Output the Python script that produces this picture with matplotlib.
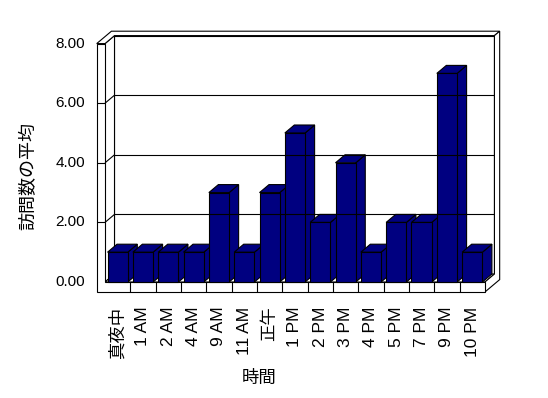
import matplotlib
matplotlib.use("Agg")
import matplotlib.pyplot as plt
from matplotlib.patches import Polygon

plt.rcParams['font.family'] = ['Liberation Sans', 'Noto Sans CJK JP', 'DejaVu Sans']

# data
categories = ['真夜中', '1 AM', '2 AM', '4 AM', '9 AM', '11 AM', '正午', '1 PM',
              '2 PM', '3 PM', '4 PM', '5 PM', '7 PM', '9 PM', '10 PM']
visits = [1, 1, 1, 1, 3, 1, 3, 5, 2, 4, 1, 2, 2, 7, 1]
yticks = [0, 2, 4, 6, 8]
ytick_labels = ['0.00', '2.00', '4.00', '6.00', '8.00']
ylabel = '訪問数の平均'
xlabel = '時間'

# pseudo 3d layout (units: categories / values)
PXU = 25.33   # px per category
PXV = 29.8    # px per value unit
X0, Y0 = 105, 282   # px of front floor origin
DU = 9.5 / PXU      # depth shift in x
DV = 8.0 / PXV      # depth shift in y
TL = 8.3 / PXU      # left wall thickness
TF = 10.0 / PXV     # floor thickness
TB = 0.55           # back wall thickness (depth units)
NAVY = '#000080'
LW = 0.8

n = len(categories)
vmax = yticks[-1]


def P(u, v, d):
    return (u + d * DU, v + d * DV)


def poly(ax, pts, fc):
    ax.add_patch(Polygon(pts, closed=True, facecolor=fc, edgecolor='black',
                         linewidth=LW, joinstyle='miter'))


def line(ax, a, b):
    ax.plot([a[0], b[0]], [a[1], b[1]], color='black', linewidth=LW,
            solid_capstyle='butt')


fig = plt.figure(figsize=(5.48, 3.98), dpi=100)
ax = fig.add_axes([0, 0, 1, 1])
ax.set_xlim(-X0 / PXU, (548 - X0) / PXU)
ax.set_ylim(-(398 - Y0) / PXV, Y0 / PXV)
ax.axis('off')

# back wall + gridlines
poly(ax, [P(0, 0, 1), P(n, 0, 1), P(n, vmax, 1), P(0, vmax, 1)], 'white')
# left wall inner face
poly(ax, [P(0, 0, 0), P(0, 0, 1), P(0, vmax, 1), P(0, vmax, 0)], 'white')
# floor
poly(ax, [P(0, 0, 0), P(n, 0, 0), P(n, 0, 1), P(0, 0, 1)], 'white')
for v in yticks[1:-1]:
    line(ax, P(0, v, 1), P(n, v, 1))
    line(ax, P(0, v, 0), P(0, v, 1))

# wall thickness: top and right side
poly(ax, [P(-TL, vmax, 0), P(0, vmax, 0), P(0, vmax, 1), P(n, vmax, 1),
          P(n, vmax, 1 + TB), P(-TL, vmax, 1 + TB)], 'white')
poly(ax, [P(n, -TF, 0), P(n, 0, 0), P(n, 0, 1), P(n, vmax, 1),
          P(n, vmax, 1 + TB), P(n, -TF, 1 + TB)], 'white')

# front face of left wall and floor
poly(ax, [P(-TL, -TF, 0), P(-TL, vmax, 0), P(0, vmax, 0), P(0, 0, 0),
          P(n, 0, 0), P(n, -TF, 0)], 'white')
for v in yticks[1:-1]:
    line(ax, P(-TL, v, 0), P(0, v, 0))
for i in range(1, n):
    line(ax, P(i, -TF, 0), P(i, 0, 0))

# bars
for i, val in enumerate(visits):
    x0, x1 = i + 0.1, i + 0.9
    poly(ax, [P(x1, 0, 0), P(x1, 0, 1), P(x1, val, 1), P(x1, val, 0)], NAVY)
    poly(ax, [P(x0, val, 0), P(x1, val, 0), P(x1, val, 1), P(x0, val, 1)], NAVY)
    poly(ax, [P(x0, 0, 0), P(x1, 0, 0), P(x1, val, 0), P(x0, val, 0)], NAVY)

# labels
for v, lab in zip(yticks, ytick_labels):
    ax.text((85 - X0) / PXU, v, lab, ha='right', va='center', fontsize=11)

for i, lab in enumerate(categories):
    ax.text(i + 0.5, -(306.5 - Y0) / PXV, lab, ha='center', va='top',
            rotation=90, fontsize=12.5)

fig.text(28.5 / 548, 1 - 176.5 / 398, ylabel, rotation=90, ha='center',
         va='center', fontsize=13)
fig.text(259 / 548, 1 - 377.7 / 398, xlabel, ha='center', va='center',
         fontsize=12.5)

fig.savefig('out.png', dpi=100)
